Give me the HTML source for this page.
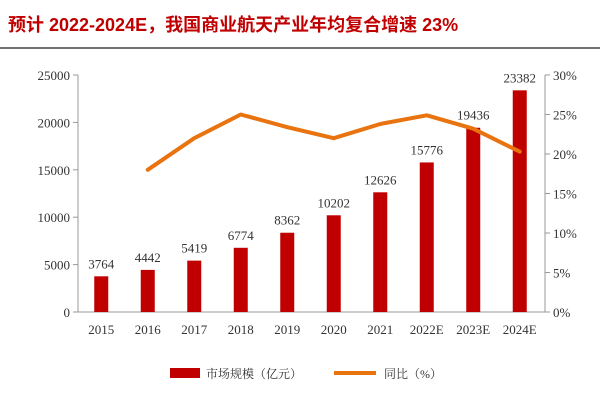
<!DOCTYPE html>
<html><head><meta charset="utf-8"><style>
body{margin:0;background:#fff;width:600px;height:400px;overflow:hidden}
svg text{font-family:"Liberation Serif","Noto Serif CJK SC",serif}
</style></head><body>
<svg width="600" height="400">
<text x="8" y="31" fill="#c00000" font-weight="bold" font-size="18" style="font-family:'Liberation Sans','Noto Sans CJK SC',sans-serif">预计 2022-2024E，我国商业航天产业年均复合增速 23%</text>
<line x1="0" y1="48" x2="600" y2="48" stroke="#444" stroke-width="1.5"/>
<g id="plot"></g>
<g>
<rect x="170" y="368" width="30" height="10" fill="#c00000"/>
<text x="206" y="378" font-size="12" fill="#333">市场规模（亿元）</text>
<line x1="334" y1="373" x2="376" y2="373" stroke="#e8730f" stroke-width="4"/>
<text x="384" y="378" font-size="12" fill="#333">同比（%）</text>
</g>
</svg>
<script>
const categories=["2015","2016","2017","2018","2019","2020","2021","2022E","2023E","2024E"];
const marketSize=[3764,4442,5419,6774,8362,10202,12626,15776,19436,23382];
const growth=[null,18.0,22.0,25.0,23.4,22.0,23.8,24.9,23.2,20.3];
const leftTicks=[0,5000,10000,15000,20000,25000];
const rightTicks=[0,5,10,15,20,25,30];
const NS="http://www.w3.org/2000/svg";
const g=document.getElementById('plot');
const L=78,R=543,T=75,B=312;
const band=(R-L)/categories.length;
const xc=i=>L+band*(i+0.5);
const yL=v=>B-(v/25000)*(B-T);
const yR=v=>B-(v/30)*(B-T);
function mk(t,a){const e=document.createElementNS(NS,t);for(const k in a)e.setAttribute(k,a[k]);g.appendChild(e);return e;}
let e;
e=mk('line',{x1:L,y1:T,x2:L,y2:B,stroke:'#999'});


e=mk('line',{x1:R+2,y1:T,x2:R+2,y2:B,stroke:'#999'});


e=mk('line',{x1:L,y1:B,x2:R+2,y2:B,stroke:'#999'});


leftTicks.forEach(v=>{const y=yL(v);
mk('line',{x1:L-5,y1:y,x2:L,y2:y,stroke:'#999'});
e=mk('text',{x:L-8,y:y+5,'text-anchor':'end','font-size':13,fill:'#333'});e.textContent=v;

});
rightTicks.forEach(v=>{const y=yR(v);
mk('line',{x1:R+2,y1:y,x2:R+7,y2:y,stroke:'#999'});
e=mk('text',{x:R+10,y:y+5,'font-size':13,fill:'#333'});e.textContent=v+'%';

});
categories.forEach((c,i)=>{
e=mk('text',{x:xc(i),y:B+22,'text-anchor':'middle','font-size':13,fill:'#333'});e.textContent=c;


const v=marketSize[i];
e=mk('rect',{x:xc(i)-7,y:yL(v),width:14,height:B-yL(v),fill:'#c00000'});


e=mk('text',{x:xc(i),y:yL(v)-8,'text-anchor':'middle','font-size':13,fill:'#333'});e.textContent=v;

});
const pts=growth.map((v,i)=>v==null?null:xc(i)+','+yR(v)).filter(p=>p);
e=mk('polyline',{points:pts.join(' '),fill:'none',stroke:'#e8730f','stroke-width':4,'stroke-linejoin':'round','stroke-linecap':'round'});


</script>
</body></html>
